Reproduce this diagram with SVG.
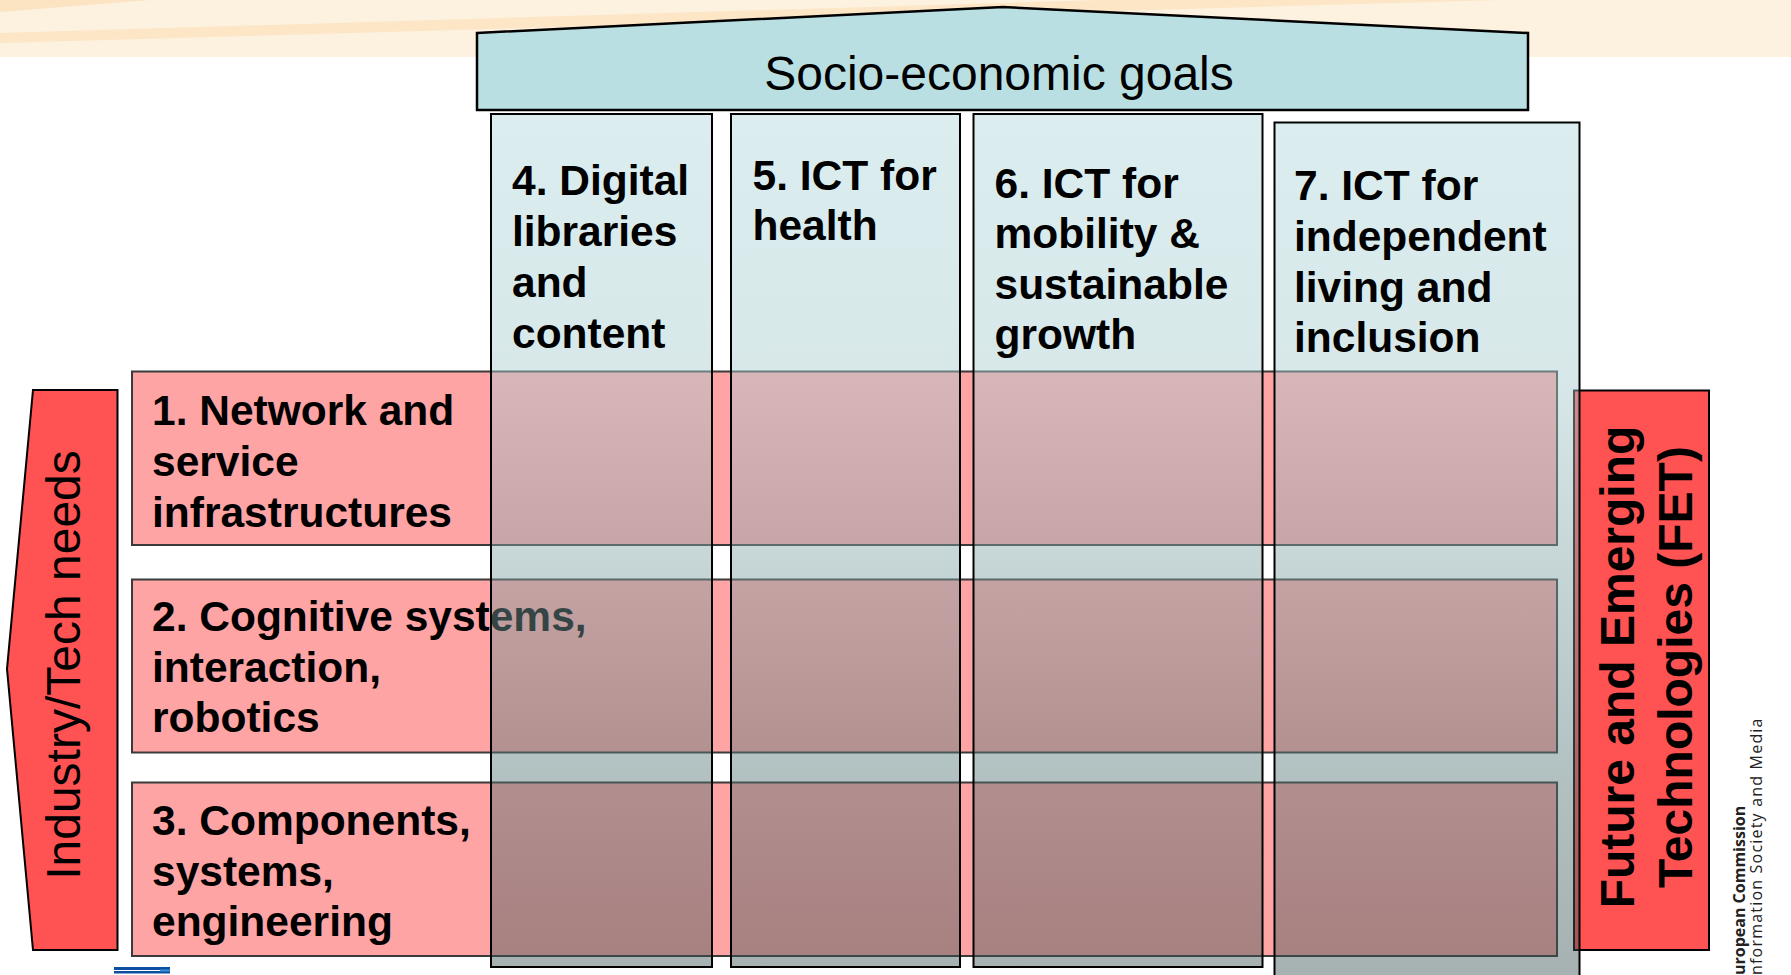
<svg xmlns="http://www.w3.org/2000/svg" width="1791" height="975" viewBox="0 0 1791 975">
<defs>
<linearGradient id="colg" gradientUnits="userSpaceOnUse" x1="0" y1="114" x2="0" y2="975">
<stop offset="0" stop-color="#afd7db"/>
<stop offset="0.309" stop-color="#a8ccd0"/>
<stop offset="0.756" stop-color="#567777"/>
<stop offset="1" stop-color="#3b5252"/>
</linearGradient>
<style>
.row{fill:#ffa4a4;stroke:#3a3a3a;stroke-width:2}
.col{fill:url(#colg);fill-opacity:0.45;stroke:#000;stroke-width:2}
.red{fill:#ff5252;stroke:#000;stroke-width:2}
.lbl{font-family:"Liberation Sans",Arial,sans-serif;font-weight:bold;font-size:42.5px;fill:#000}
.big{font-family:"Liberation Sans",Arial,sans-serif;font-size:48px;fill:#000}
.ec{font-family:"Open Sans","Liberation Sans",sans-serif;font-size:16px;fill:#222}
</style>
</defs>
<rect width="1791" height="975" fill="#fff"/>
<g id="background">
<rect x="0" y="0" width="1791" height="57" fill="#fdf1df"/>
<polygon points="0,33 1100,0 1500,0 0,43" fill="#fce6c6"/>
<polygon points="0,0 150,0 0,12" fill="#fce4c2"/>
</g>
<g id="banner">
<polygon points="477,33 1003,7 1528,33 1528,110 477,110" fill="#b9dfe2" stroke="#000" stroke-width="2.5"/>
<text class="big" x="999" y="90" text-anchor="middle">Socio-economic goals</text>
</g>
<g id="industry">
<polygon class="red" points="33,390 117.5,390 117.5,950 33,950 7,669"/>
<text class="big" transform="translate(80,665) rotate(-90)" text-anchor="middle">Industry/Tech needs</text>
</g>
<g id="row1">
<rect class="row" x="132" y="371.5" width="1425" height="173.5"/>
<text class="lbl" x="152" y="424.5">1. Network and</text>
<text class="lbl" x="152" y="475.5">service</text>
<text class="lbl" x="152" y="526.5">infrastructures</text>
</g>
<g id="row2">
<rect class="row" x="132" y="579.5" width="1425" height="173"/>
<text class="lbl" x="152" y="631">2. Cognitive systems,</text>
<text class="lbl" x="152" y="681.7">interaction,</text>
<text class="lbl" x="152" y="732.3">robotics</text>
</g>
<g id="row3">
<rect class="row" x="132" y="782.5" width="1425" height="173.5"/>
<text class="lbl" x="152" y="835">3. Components,</text>
<text class="lbl" x="152" y="885.5">systems,</text>
<text class="lbl" x="152" y="935.5">engineering</text>
</g>
<g id="fet">
<rect class="red" x="1574" y="390.5" width="135" height="559.5"/>
<text class="big" font-weight="bold" transform="translate(1634,667) rotate(-90)" text-anchor="middle">Future and Emerging</text>
<text class="big" font-weight="bold" transform="translate(1692,667) rotate(-90)" text-anchor="middle">Technologies (FET)</text>
</g>
<g id="col4">
<rect class="col" x="491" y="114" width="221" height="853"/>
<text class="lbl" x="512" y="195">4. Digital</text>
<text class="lbl" x="512" y="246">libraries</text>
<text class="lbl" x="512" y="297">and</text>
<text class="lbl" x="512" y="348">content</text>
</g>
<g id="col5">
<rect class="col" x="731" y="114" width="229" height="853"/>
<text class="lbl" x="752.5" y="189.5">5. ICT for</text>
<text class="lbl" x="752.5" y="240">health</text>
</g>
<g id="col6">
<rect class="col" x="973.5" y="114" width="289" height="853"/>
<text class="lbl" x="994.5" y="197.5">6. ICT for</text>
<text class="lbl" x="994.5" y="248">mobility &amp;</text>
<text class="lbl" x="994.5" y="298.5">sustainable</text>
<text class="lbl" x="994.5" y="349">growth</text>
</g>
<g id="col7">
<rect class="col" x="1274.5" y="122.5" width="305" height="862"/>
<text class="lbl" x="1294" y="200">7. ICT for</text>
<text class="lbl" x="1294" y="251">independent</text>
<text class="lbl" x="1294" y="301.5">living and</text>
<text class="lbl" x="1294" y="352">inclusion</text>
</g>
<g id="ec-logo">
<text class="ec" font-weight="bold" transform="translate(1745,975) rotate(-90)">uropean Commission</text>
<text class="ec" letter-spacing="1.2" transform="translate(1762,975) rotate(-90)">nformation Society and Media</text>
<rect x="114" y="967" width="56" height="3" fill="#0b4ea2"/>
<rect x="114" y="971" width="56" height="2.5" fill="#0b4ea2"/>
<rect x="160" y="969.5" width="10" height="2" fill="#3d8fd6"/>
</g>
<g id="connectors"/>
</svg>
